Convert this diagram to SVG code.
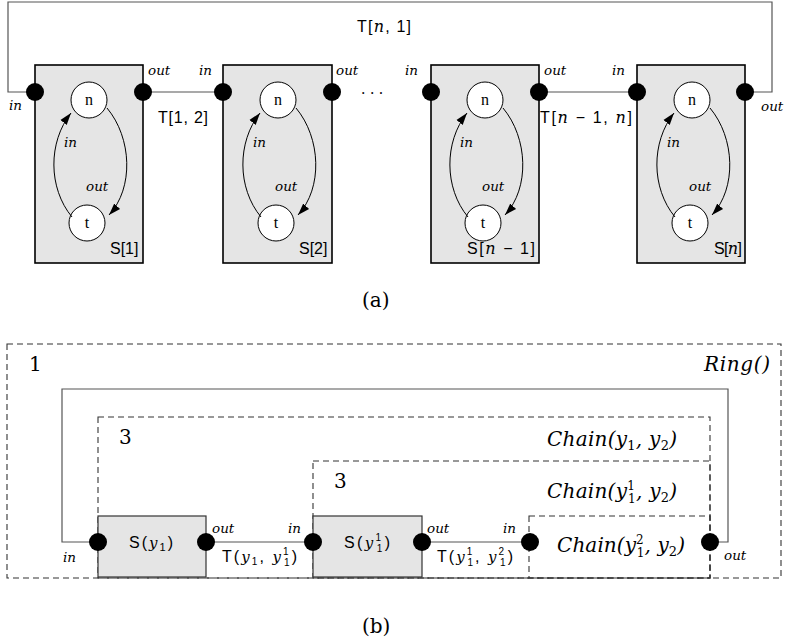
<svg xmlns="http://www.w3.org/2000/svg" width="786" height="642" viewBox="0 0 786 642">
<defs>
<marker id="ah" viewBox="0 0 12 10" refX="12" refY="5" markerWidth="12" markerHeight="10" markerUnits="userSpaceOnUse" orient="auto">
<path d="M0,1 L12,5 L0,9 Z" fill="#000"/>
</marker>
<g id="inner">
<circle cx="0" cy="0" r="18" fill="#fff" stroke="#000" stroke-width="1"/>
<circle cx="-2" cy="123" r="18" fill="#fff" stroke="#000" stroke-width="1"/>
<text x="0" y="5" class="frak">n</text>
<text x="-2" y="128" class="frak">t</text>
<path d="M-17,117 C-41,88 -41,42 -18,13" fill="none" stroke="#000" stroke-width="1" marker-end="url(#ah)"/>
<path d="M18,8 C43,38 45,88 20,115" fill="none" stroke="#000" stroke-width="1" marker-end="url(#ah)"/>
<text x="-25" y="47" class="it">in</text>
<text x="-3" y="91" class="it">out</text>
</g>
</defs>
<style>
.box{fill:#e5e5e5;stroke:#000;stroke-width:1.6}
.gbox{fill:#e5e5e5;stroke:#333;stroke-width:1.2}
.port{fill:#000}
.wire{fill:none;stroke:#555;stroke-width:1.2}
.dash{fill:none;stroke:#333;stroke-width:1.1;stroke-dasharray:6,4}
.it{font-family:"DejaVu Serif",serif;font-style:italic;font-size:13.5px}
.m{font-family:"DejaVu Serif",serif;font-style:italic}
.sf{font-family:"Liberation Sans",sans-serif;font-size:16px}
.frak{font-family:"Liberation Serif",serif;font-size:16px;text-anchor:middle}
.rm{font-family:"DejaVu Serif",serif;font-size:20px}
.bi{font-family:"DejaVu Serif",serif;font-style:italic;font-size:20px}
</style>

<!-- Part (a) -->
<g id="connectors-a">
<path class="wire" d="M35,92 H8 V2 H772 V92 H745"/>
<line class="wire" x1="143" y1="92" x2="223" y2="92"/>
<line class="wire" x1="539" y1="92" x2="637" y2="92"/>
</g>
<g id="S1">
<rect class="box" x="35" y="65" width="108" height="198"/>
<use href="#inner" transform="translate(89,100)"/>
<circle class="port" cx="35" cy="92" r="9"/>
<circle class="port" cx="143" cy="92" r="9"/>
<text class="sf" x="110" y="254">S[1]</text>
</g>
<g id="S2">
<rect class="box" x="223" y="65" width="109" height="198"/>
<use href="#inner" transform="translate(278,100)"/>
<circle class="port" cx="223" cy="92" r="9"/>
<circle class="port" cx="332" cy="92" r="9"/>
<text class="sf" x="299" y="254">S[2]</text>
</g>
<g id="Sn1">
<rect class="box" x="431" y="65" width="108" height="198"/>
<use href="#inner" transform="translate(485,100)"/>
<circle class="port" cx="431" cy="92" r="9"/>
<circle class="port" cx="539" cy="92" r="9"/>
<text class="sf" x="467" y="254" textLength="68">S[<tspan class="m">n</tspan> − 1]</text>
</g>
<g id="Sn">
<rect class="box" x="637" y="65" width="108" height="198"/>
<use href="#inner" transform="translate(692,100)"/>
<circle class="port" cx="637" cy="92" r="9"/>
<circle class="port" cx="745" cy="92" r="9"/>
<text class="sf" x="714" y="254" textLength="28">S[<tspan class="m">n</tspan>]</text>
</g>
<g id="labels-a">
<text class="it" x="9" y="110">in</text>
<text class="it" x="148" y="75">out</text>
<text class="it" x="199" y="75">in</text>
<text class="it" x="336" y="75">out</text>
<text class="it" x="405" y="75">in</text>
<text class="it" x="544" y="75">out</text>
<text class="it" x="612" y="75">in</text>
<text class="it" x="761" y="111">out</text>
<text class="sf" x="158" y="123" textLength="50">T[1, 2]</text>
<text class="sf" x="540" y="123" textLength="92">T[<tspan class="m">n</tspan> − 1, <tspan class="m">n</tspan>]</text>
<text class="sf" x="357" y="32" textLength="54">T[<tspan class="m">n</tspan>, 1]</text>
<text x="361" y="98" font-family="DejaVu Serif" font-size="14">· · ·</text>
<text class="rm" x="362" y="307">(a)</text>
</g>

<!-- Part (b) -->
<g id="frames-b">
<rect class="dash" x="7" y="344" width="774" height="234"/>
<rect class="dash" x="98" y="417" width="612" height="161"/>
<rect class="dash" x="313" y="461" width="397" height="117"/>
<rect class="dash" x="529" y="516" width="181" height="62"/>
<text class="rm" x="29" y="371">1</text>
<text class="bi" x="704" y="371" textLength="66">Ring()</text>
<text class="rm" x="119" y="444">3</text>
<text class="rm" x="334" y="488">3</text>
<text class="bi" x="547" y="446" textLength="130">Chain(y<tspan font-size="13" dy="4" font-style="normal">1</tspan><tspan dy="-4">, y</tspan><tspan font-size="13" dy="4" font-style="normal">2</tspan><tspan dy="-4">)</tspan></text>
<text class="bi" x="547" y="498" textLength="130">Chain(y<tspan font-size="12" dy="-8" font-style="normal">1</tspan><tspan font-size="12" dx="-7" dy="13" font-style="normal">1</tspan><tspan dy="-5">, y</tspan><tspan font-size="13" dy="4" font-style="normal">2</tspan><tspan dy="-4">)</tspan></text>
<text class="bi" x="557" y="552" textLength="128">Chain(y<tspan font-size="12" dy="-8" font-style="normal">2</tspan><tspan font-size="12" dx="-7" dy="13" font-style="normal">1</tspan><tspan dy="-5">, y</tspan><tspan font-size="13" dy="4" font-style="normal">2</tspan><tspan dy="-4">)</tspan></text>
</g>
<g id="connectors-b">
<path class="wire" d="M98,542 H62 V389 H728 V542 H710"/>
<line class="wire" x1="206" y1="542" x2="313" y2="542"/>
<line class="wire" x1="422" y1="542" x2="530" y2="542"/>
</g>
<g id="Sy1">
<rect class="gbox" x="98" y="516" width="108" height="61"/>
<circle class="port" cx="98" cy="542" r="9"/>
<circle class="port" cx="206" cy="542" r="9"/>
<text class="sf" x="129" y="548" textLength="44">S(<tspan class="m" font-size="15">y</tspan><tspan font-size="11" dy="3">1</tspan><tspan dy="-3">)</tspan></text>
</g>
<g id="Sy11">
<rect class="gbox" x="313" y="516" width="109" height="61"/>
<circle class="port" cx="313" cy="542" r="9"/>
<circle class="port" cx="422" cy="542" r="9"/>
<text class="sf" x="344" y="548" textLength="46">S(<tspan class="m" font-size="15">y</tspan><tspan font-size="10" dy="-7">1</tspan><tspan font-size="10" dx="-6" dy="11">1</tspan><tspan dy="-4">)</tspan></text>
</g>
<g id="port-chain">
<circle class="port" cx="530" cy="542" r="9"/>
<circle class="port" cx="710" cy="542" r="9"/>
</g>
<g id="labels-b">
<text class="it" x="63" y="562" font-size="13">in</text>
<text class="it" x="212" y="533" font-size="13">out</text>
<text class="it" x="288" y="533" font-size="13">in</text>
<text class="it" x="427" y="533" font-size="13">out</text>
<text class="it" x="503" y="533" font-size="13">in</text>
<text class="it" x="724" y="560" font-size="13">out</text>
<text class="sf" x="222" y="562" textLength="75">T(<tspan class="m" font-size="15">y</tspan><tspan font-size="10" dy="3">1</tspan><tspan dy="-3">, </tspan><tspan class="m" font-size="15">y</tspan><tspan font-size="10" dy="-7">1</tspan><tspan font-size="10" dx="-6" dy="11">1</tspan><tspan dy="-4">)</tspan></text>
<text class="sf" x="437" y="562" textLength="76">T(<tspan class="m" font-size="15">y</tspan><tspan font-size="10" dy="-7">1</tspan><tspan font-size="10" dx="-6" dy="11">1</tspan><tspan dy="-4">, </tspan><tspan class="m" font-size="15">y</tspan><tspan font-size="10" dy="-7">2</tspan><tspan font-size="10" dx="-6" dy="11">1</tspan><tspan dy="-4">)</tspan></text>
<text class="rm" x="362" y="633">(b)</text>
</g>
</svg>
